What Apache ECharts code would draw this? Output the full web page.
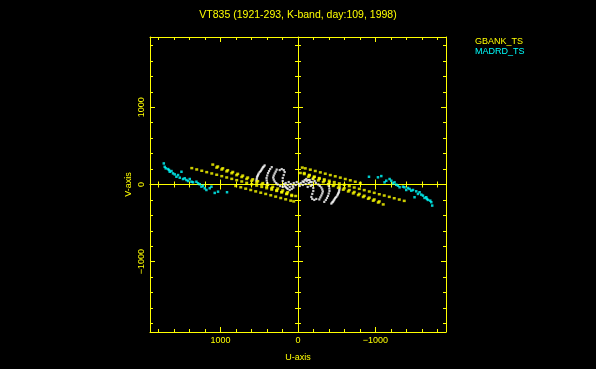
<!DOCTYPE html>
<html><head><meta charset="utf-8">
<script src="https://cdn.jsdelivr.net/npm/echarts@6/dist/echarts.min.js"></script>
<style>html,body{margin:0;padding:0;background:#000}#c{width:596px;height:369px}</style>
</head><body><div id="c"></div>
<script>
const chartTitle = 'VT835 (1921-293, K-band, day:109, 1998)';
const legendNames = ['GBANK_TS', 'MADRD_TS'];
const otherName = 'other baselines';
const xAxisName = 'U-axis';
const yAxisName = 'V-axis';
const axisLimit = 1910;
const minorTickValues = [-1800,-1600,-1400,-1200,-1000,-800,-600,-400,-200,0,200,400,600,800,1000,1200,1400,1600,1800];
const majorTickValues = [-1000, 0, 1000];
const tickLabelValues = [-1000, 0, 1000];

// GBANK_TS (u, v) samples
const gbankUV = [
  [1371,212],[1307,195],[1242,178],[1178,160],[1113,143],[1049,126],[984,108],[920,91],[855,73],[791,56],[726,39],[662,21],[597,4],[533,-14],[468,-31],[404,-48],[339,-66],[275,-83],[210,-100],[146,-118],[81,-135],[30,-149],
  [1100,258],[1036,233],[971,210],[907,185],[842,162],[778,138],[713,115],[649,90],[584,67],[520,43],[455,18],[391,-5],[326,-30],[262,-53],[197,-77],[133,-100],
  [1049,219],[984,194],[920,170],[855,146],[791,121],[726,97],[662,72],[597,48],[533,23],[468,-1],[404,-26],[339,-50],[275,-75],[210,-99],[146,-124],[81,-148],
  [804,-19],[739,-36],[675,-54],[610,-71],[546,-89],[481,-106],[417,-122],[352,-140],[288,-157],[223,-175],[159,-192],[94,-209],[55,-219],
  [-1371,-212],[-1307,-195],[-1242,-178],[-1178,-160],[-1113,-143],[-1049,-126],[-984,-108],[-920,-91],[-855,-73],[-791,-56],[-726,-39],[-662,-21],[-597,-4],[-533,14],[-468,31],[-404,48],[-339,66],[-275,83],[-210,100],[-146,118],[-81,135],[-30,149],
  [-1100,-258],[-1036,-233],[-971,-210],[-907,-185],[-842,-162],[-778,-138],[-713,-115],[-649,-90],[-584,-67],[-520,-43],[-455,-18],[-391,5],[-326,30],[-262,53],[-197,77],[-133,100],
  [-1049,-219],[-984,-194],[-920,-170],[-855,-146],[-791,-121],[-726,-97],[-662,-72],[-597,-48],[-533,-23],[-468,1],[-404,26],[-339,50],[-275,75],[-210,99],[-146,124],[-81,148],
  [-804,19],[-739,36],[-675,54],[-610,71],[-546,89],[-481,106],[-417,122],[-352,140],[-288,157],[-223,175],[-159,192],[-94,209],[-55,219]
];

// MADRD_TS (u, v) samples
const madrdUV = [
  [1732,273],[1720,229],[1707,209],[1677,200],[1664,187],[1655,165],[1633,174],[1613,144],[1591,131],[1569,100],[1548,122],[1526,88],[1504,165],[1484,71],[1462,80],[1440,58],[1419,45],[1397,71],[1375,36],[1355,28],[1311,36],[1290,15],[1268,3],[1246,-28],[1226,-15],[1204,-49],[1182,-71],[1139,-49],[1117,-28],[1032,-93],[916,-100],[1075,-109],
  [-1732,-273],[-1720,-229],[-1707,-209],[-1677,-200],[-1664,-187],[-1655,-165],[-1633,-174],[-1613,-144],[-1591,-131],[-1569,-100],[-1548,-122],[-1526,-88],[-1504,-165],[-1484,-71],[-1462,-80],[-1440,-58],[-1419,-45],[-1397,-71],[-1375,-36],[-1355,-28],[-1311,-36],[-1290,-15],[-1268,-3],[-1246,28],[-1226,15],[-1204,49],[-1182,71],[-1139,49],[-1117,28],[-1032,93],[-916,100],[-1075,109]
];

// other baselines (white) (u, v) samples
const otherUV = [
  [430,247],[442,232],[452,222],[462,206],[472,191],[481,174],[494,161],[507,142],[516,126],[522,109],[529,93],[533,71],[537,49],
  [339,225],[359,200],[374,174],[387,148],[397,116],[406,84],[404,52],[397,19],[391,-6],
  [275,193],[288,167],[301,142],[313,116],[320,90],[313,64],[301,39],[281,19],[262,0],
  [236,187],[210,200],[184,187],[172,161],[184,122],[197,84],[197,45],[184,6],[159,-32],[133,-58],[107,-71],
  [-430,-247],[-442,-232],[-452,-222],[-462,-206],[-472,-191],[-481,-174],[-494,-161],[-507,-142],[-516,-126],[-522,-109],[-529,-93],[-533,-71],[-537,-49],
  [-339,-225],[-359,-200],[-374,-174],[-387,-148],[-397,-116],[-406,-84],[-404,-52],[-397,-19],[-391,6],
  [-275,-193],[-288,-167],[-301,-142],[-313,-116],[-320,-90],[-313,-64],[-301,-39],[-281,-19],[-262,0],
  [-236,-187],[-210,-200],[-184,-187],[-172,-161],[-184,-122],[-197,-84],[-197,-45],[-184,-6],[-159,32],[-133,58],[-107,71],
  [197,-32],[172,-19],[146,-45],[133,-6],[107,-32],[94,6],[68,-19],[55,19],[30,-6],[17,32],[-9,6],[-22,-19],[-35,19],[-61,-6],[-74,32],[-99,6],[-112,45],[-138,19],[-151,58],[-177,32],[-190,71],[-215,45],
  [159,19],[81,-58],[-87,58],[-164,-19],[120,32],[-125,-32],[60,-40],[-60,40],[230,-20],[-230,20]
];

const yellow = '#ffff00';
const cyan = '#00ffff';
const fontFamily = 'Liberation Sans';

function makeAxis(dim, position, cfg) {
  const ax = {
    type: 'value', min: -axisLimit, max: axisLimit, position: position,
    inverse: dim === 'x',
    silent: true,
    axisLine: { show: !!cfg.line, onZero: !!cfg.onZero, onZeroAxisIndex: 0, lineStyle: { color: yellow, width: 1 } },
    axisTick: cfg.ticks ? { show: true, inside: cfg.inside, length: cfg.len, customValues: cfg.ticks, lineStyle: { color: yellow, width: 1 } } : { show: false },
    axisLabel: { show: false },
    splitLine: { show: false }
  };
  if (cfg.labels) {
    ax.axisLabel = {
      show: true, customValues: tickLabelValues, color: yellow, fontSize: 9, fontFamily: fontFamily,
      margin: cfg.labelMargin, rotate: cfg.rotate || 0,
      formatter: function (v) { return v < 0 ? '\u2212' + Math.abs(v) : String(v); }
    };
    ax.name = cfg.name;
    ax.nameLocation = 'middle';
    ax.nameGap = cfg.nameGap;
    ax.nameTextStyle = { color: yellow, fontSize: 9, fontFamily: fontFamily };
  }
  return ax;
}

const xAxes = [
  makeAxis('x', 'bottom', { line: true, ticks: minorTickValues, inside: true, len: 3, labels: true, labelMargin: 4, name: xAxisName, nameGap: 21 }),
  makeAxis('x', 'top', { line: true, ticks: minorTickValues, inside: true, len: 3 }),
  makeAxis('x', 'bottom', { ticks: majorTickValues, inside: true, len: 5 }),
  makeAxis('x', 'top', { ticks: majorTickValues, inside: true, len: 5 }),
  makeAxis('x', 'bottom', { line: true, onZero: true, ticks: minorTickValues, inside: true, len: 3 }),
  makeAxis('x', 'bottom', { onZero: true, ticks: minorTickValues, inside: false, len: 3 }),
  makeAxis('x', 'bottom', { onZero: true, ticks: majorTickValues, inside: true, len: 5 }),
  makeAxis('x', 'bottom', { onZero: true, ticks: majorTickValues, inside: false, len: 5 })
];
const yAxes = [
  makeAxis('y', 'left', { line: true, ticks: minorTickValues, inside: true, len: 3, labels: true, labelMargin: 4, rotate: 90, name: yAxisName, nameGap: 17 }),
  makeAxis('y', 'right', { line: true, ticks: minorTickValues, inside: true, len: 3 }),
  makeAxis('y', 'left', { ticks: majorTickValues, inside: true, len: 5 }),
  makeAxis('y', 'right', { ticks: majorTickValues, inside: true, len: 5 }),
  makeAxis('y', 'left', { line: true, onZero: true, ticks: minorTickValues, inside: true, len: 3 }),
  makeAxis('y', 'left', { onZero: true, ticks: minorTickValues, inside: false, len: 3 }),
  makeAxis('y', 'left', { onZero: true, ticks: majorTickValues, inside: true, len: 5 }),
  makeAxis('y', 'left', { onZero: true, ticks: majorTickValues, inside: false, len: 5 })
];

const chart = echarts.init(document.getElementById('c'), null, { renderer: 'canvas' });
chart.setOption({
  backgroundColor: '#000000',
  animation: false,
  title: {
    text: chartTitle, left: 'center', top: 5,
    textStyle: { color: yellow, fontSize: 10.5, fontWeight: 'normal', fontFamily: fontFamily }
  },
  legend: {
    orient: 'vertical', left: 470, top: 36, padding: 0, itemGap: 0,
    itemWidth: 0, itemHeight: 0, selectedMode: false,
    textStyle: { fontSize: 9, fontFamily: fontFamily, lineHeight: 10.5 },
    data: [
      { name: legendNames[0], textStyle: { color: yellow } },
      { name: legendNames[1], textStyle: { color: cyan } }
    ]
  },
  grid: { left: 150, top: 37, width: 296, height: 295 },
  xAxis: xAxes,
  yAxis: yAxes,
  series: [
    { name: otherName, type: 'scatter', xAxisIndex: 0, yAxisIndex: 0, data: otherUV, symbol: 'rect', symbolSize: 2.2, itemStyle: { color: '#ffffff' }, silent: true, z: 3 },
    { name: legendNames[0], type: 'scatter', xAxisIndex: 0, yAxisIndex: 0, data: gbankUV, symbol: 'rect', symbolSize: [3, 2.5], itemStyle: { color: yellow }, silent: true, z: 4 },
    { name: legendNames[1], type: 'scatter', xAxisIndex: 0, yAxisIndex: 0, data: madrdUV, symbol: 'rect', symbolSize: 2.5, itemStyle: { color: cyan }, silent: true, z: 4 }
  ]
});
</script>
</body></html>
